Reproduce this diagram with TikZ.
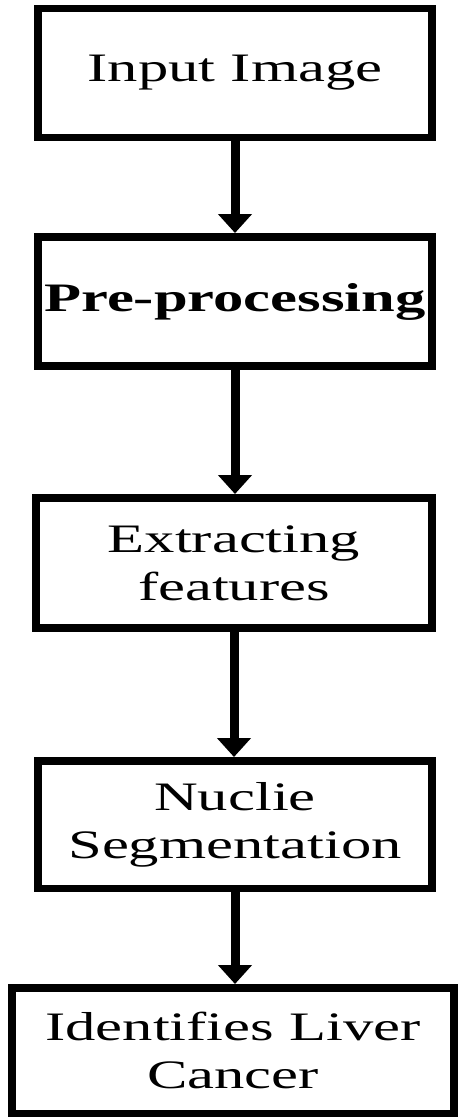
\documentclass[tikz,border=0pt]{standalone}
\usepackage{fontspec}
\setmainfont{Liberation Serif}[FakeStretch=1.5]
\usetikzlibrary{arrows.meta}

\begin{document}
\begin{tikzpicture}[x=0.02cm,y=-0.02cm]

% definizione dello stile dei blocchi
\tikzset{mybox/.style={rectangle, draw, line width=0.15cm, minimum width=7.89cm, minimum height=2.58cm, align=center, inner sep=0pt, font=\fontsize{23}{27.3}\selectfont}}
% definizione delle frecce
\tikzset{myarrow/.style={line width=0.18cm, -{Triangle[width=0.66cm,length=0.38cm]}}}

% area del disegno
\useasboundingbox (0,0) rectangle (458,1117);

% Disegna i blocchi
\node[mybox] (input) at (235,73) {Input Image};
\node[mybox, minimum height=2.59cm] (preproc) at (235,301.5) {\bfseries Pre-processing};
\node[mybox, minimum width=7.93cm, minimum height=2.61cm] (features) at (234,563) {Extracting\\features};
\node[mybox, minimum height=2.55cm] (segm) at (235,824.5) {Nuclie\\Segmentation};
\node[mybox, minimum width=8.85cm, minimum height=2.51cm] (cancer) at (233,1050.5) {Identifies Liver\\Cancer};

% Collega i blocchi con le frecce
\foreach \a/\b in {input/preproc, preproc/features, features/segm, segm/cancer}
\draw[myarrow] (\a.south) -- (\a.south |- \b.north);

\end{tikzpicture}
\end{document}
